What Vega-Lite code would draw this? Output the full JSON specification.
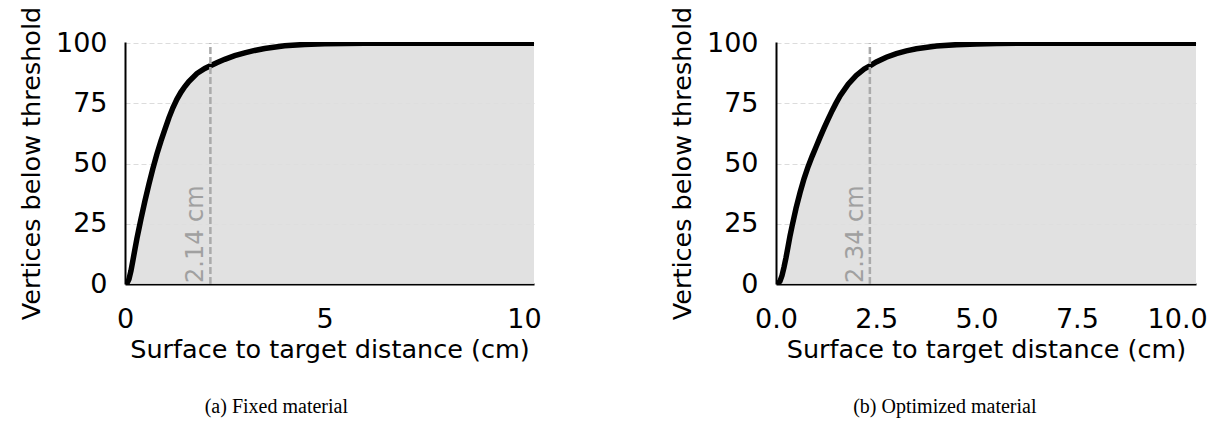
{
  "$schema": "https://vega.github.io/schema/vega-lite/v6.json",
  "background": "white",
  "padding": {"left": 19, "top": 6, "right": 5, "bottom": 5},
  "spacing": 128,
  "config": {
    "font": "DejaVu Sans",
    "view": {"stroke": null},
    "axis": {
      "domainColor": "black",
      "domainWidth": 2,
      "ticks": false,
      "labelFontSize": 27,
      "titleFontSize": 25.5,
      "labelColor": "black",
      "titleColor": "black",
      "titleFontWeight": "normal",
      "labelFont": "DejaVu Sans",
      "titleFont": "DejaVu Sans",
      "gridColor": "#dcdcdc",
      "gridDash": [5, 3],
      "gridWidth": 1,
      "labelFlush": false
    },
    "axisX": {"grid": false, "labelPadding": 22, "titlePadding": 5},
    "axisY": {"grid": true, "labelPadding": 18, "titlePadding": 11}
  },
  "datasets": {
    "fixed": [
      {"d": 0, "p": 0}, {"d": 0.05, "p": 0.3}, {"d": 0.1, "p": 2}, {"d": 0.15, "p": 5.5},
      {"d": 0.2, "p": 10}, {"d": 0.25, "p": 14.5}, {"d": 0.3, "p": 19}, {"d": 0.35, "p": 23},
      {"d": 0.4, "p": 27}, {"d": 0.5, "p": 34.5}, {"d": 0.6, "p": 41.5}, {"d": 0.7, "p": 48},
      {"d": 0.8, "p": 54}, {"d": 0.9, "p": 59.3}, {"d": 1.0, "p": 64.2}, {"d": 1.1, "p": 69},
      {"d": 1.2, "p": 73.2}, {"d": 1.3, "p": 76.7}, {"d": 1.4, "p": 79.6}, {"d": 1.5, "p": 82},
      {"d": 1.6, "p": 84.1}, {"d": 1.8, "p": 87.4}, {"d": 2.0, "p": 89.5}, {"d": 2.14, "p": 90.6},
      {"d": 2.3, "p": 91.9}, {"d": 2.5, "p": 93.3}, {"d": 2.75, "p": 94.8}, {"d": 3.0, "p": 96},
      {"d": 3.25, "p": 97}, {"d": 3.5, "p": 97.8}, {"d": 4.0, "p": 98.9}, {"d": 4.5, "p": 99.5},
      {"d": 5.0, "p": 99.8}, {"d": 6.0, "p": 99.95}, {"d": 7.0, "p": 100}, {"d": 8.5, "p": 100},
      {"d": 10.25, "p": 100}
    ],
    "optimized": [
      {"d": 0, "p": 0}, {"d": 0.05, "p": 0.2}, {"d": 0.1, "p": 1.2}, {"d": 0.15, "p": 3.5},
      {"d": 0.2, "p": 7}, {"d": 0.25, "p": 11}, {"d": 0.3, "p": 15.5}, {"d": 0.35, "p": 20},
      {"d": 0.4, "p": 24}, {"d": 0.5, "p": 31.5}, {"d": 0.6, "p": 38}, {"d": 0.7, "p": 43.8},
      {"d": 0.8, "p": 48.7}, {"d": 0.9, "p": 53}, {"d": 1.0, "p": 57}, {"d": 1.1, "p": 61},
      {"d": 1.2, "p": 64.8}, {"d": 1.3, "p": 68.5}, {"d": 1.4, "p": 72}, {"d": 1.5, "p": 75.2},
      {"d": 1.6, "p": 78.2}, {"d": 1.8, "p": 83}, {"d": 2.0, "p": 86.6}, {"d": 2.2, "p": 89.3},
      {"d": 2.34, "p": 90.6}, {"d": 2.5, "p": 92.2}, {"d": 2.75, "p": 94.2}, {"d": 3.0, "p": 95.7},
      {"d": 3.25, "p": 96.8}, {"d": 3.5, "p": 97.7}, {"d": 4.0, "p": 98.8}, {"d": 4.5, "p": 99.4},
      {"d": 5.0, "p": 99.7}, {"d": 5.5, "p": 99.85}, {"d": 6.0, "p": 99.93}, {"d": 7.0, "p": 100},
      {"d": 10.47, "p": 100}
    ],
    "markFixed": [{"d": 2.14, "lo": 0, "hi": 100, "label": "2.14 cm"}],
    "markOpt": [{"d": 2.34, "lo": 0, "hi": 100, "label": "2.34 cm"}]
  },
  "hconcat": [
    {
      "width": 409,
      "height": 242,
      "title": {"text": "(a) Fixed material", "orient": "bottom", "font": "Liberation Serif", "fontSize": 20, "fontWeight": "normal", "color": "black", "offset": 34, "frame": "bounds", "anchor": "middle", "dx": -4},
      "layer": [
        {
          "data": {"name": "fixed"},
          "mark": {"type": "area", "color": "#dedede", "opacity": 0.9},
          "encoding": {
            "x": {"field": "d", "type": "quantitative", "scale": {"domain": [0, 10.25], "nice": false, "zero": false}, "axis": {"values": [0, 5, 10], "title": "Surface to target distance (cm)"}},
            "y": {"field": "p", "type": "quantitative", "scale": {"domain": [0, 100.5], "nice": false}, "axis": {"values": [0, 25, 50, 75, 100], "title": "Vertices below threshold"}}
          }
        },
        {
          "data": {"name": "fixed"},
          "mark": {"type": "line", "color": "black", "strokeWidth": 5.5, "clip": true},
          "encoding": {
            "x": {"field": "d", "type": "quantitative"},
            "y": {"field": "p", "type": "quantitative"}
          }
        },
        {
          "data": {"name": "markFixed"},
          "mark": {"type": "rule", "color": "#aaaaaa", "strokeWidth": 2.5, "strokeDash": [7, 3]},
          "encoding": {
            "x": {"field": "d", "type": "quantitative"},
            "y": {"field": "lo", "type": "quantitative"},
            "y2": {"field": "hi"}
          }
        },
        {
          "data": {"name": "markFixed"},
          "mark": {"type": "text", "angle": 270, "align": "left", "baseline": "bottom", "fontSize": 24, "color": "#a0a0a0", "dx": 1, "dy": -2},
          "encoding": {
            "x": {"field": "d", "type": "quantitative"},
            "y": {"field": "lo", "type": "quantitative"},
            "text": {"field": "label"}
          }
        }
      ]
    },
    {
      "width": 420,
      "height": 242,
      "title": {"text": "(b) Optimized material", "orient": "bottom", "font": "Liberation Serif", "fontSize": 20, "fontWeight": "normal", "color": "black", "offset": 34, "frame": "bounds", "anchor": "middle", "dx": 6},
      "layer": [
        {
          "data": {"name": "optimized"},
          "mark": {"type": "area", "color": "#dedede", "opacity": 0.9},
          "encoding": {
            "x": {"field": "d", "type": "quantitative", "scale": {"domain": [0, 10.47], "nice": false, "zero": false}, "axis": {"values": [0, 2.5, 5, 7.5, 10], "format": ".1f", "title": "Surface to target distance (cm)"}},
            "y": {"field": "p", "type": "quantitative", "scale": {"domain": [0, 100.5], "nice": false}, "axis": {"values": [0, 25, 50, 75, 100], "title": "Vertices below threshold"}}
          }
        },
        {
          "data": {"name": "optimized"},
          "mark": {"type": "line", "color": "black", "strokeWidth": 5.5, "clip": true},
          "encoding": {
            "x": {"field": "d", "type": "quantitative"},
            "y": {"field": "p", "type": "quantitative"}
          }
        },
        {
          "data": {"name": "markOpt"},
          "mark": {"type": "rule", "color": "#aaaaaa", "strokeWidth": 2.5, "strokeDash": [7, 3]},
          "encoding": {
            "x": {"field": "d", "type": "quantitative"},
            "y": {"field": "lo", "type": "quantitative"},
            "y2": {"field": "hi"}
          }
        },
        {
          "data": {"name": "markOpt"},
          "mark": {"type": "text", "angle": 270, "align": "left", "baseline": "bottom", "fontSize": 24, "color": "#a0a0a0", "dx": 1, "dy": -2},
          "encoding": {
            "x": {"field": "d", "type": "quantitative"},
            "y": {"field": "lo", "type": "quantitative"},
            "text": {"field": "label"}
          }
        }
      ]
    }
  ]
}
